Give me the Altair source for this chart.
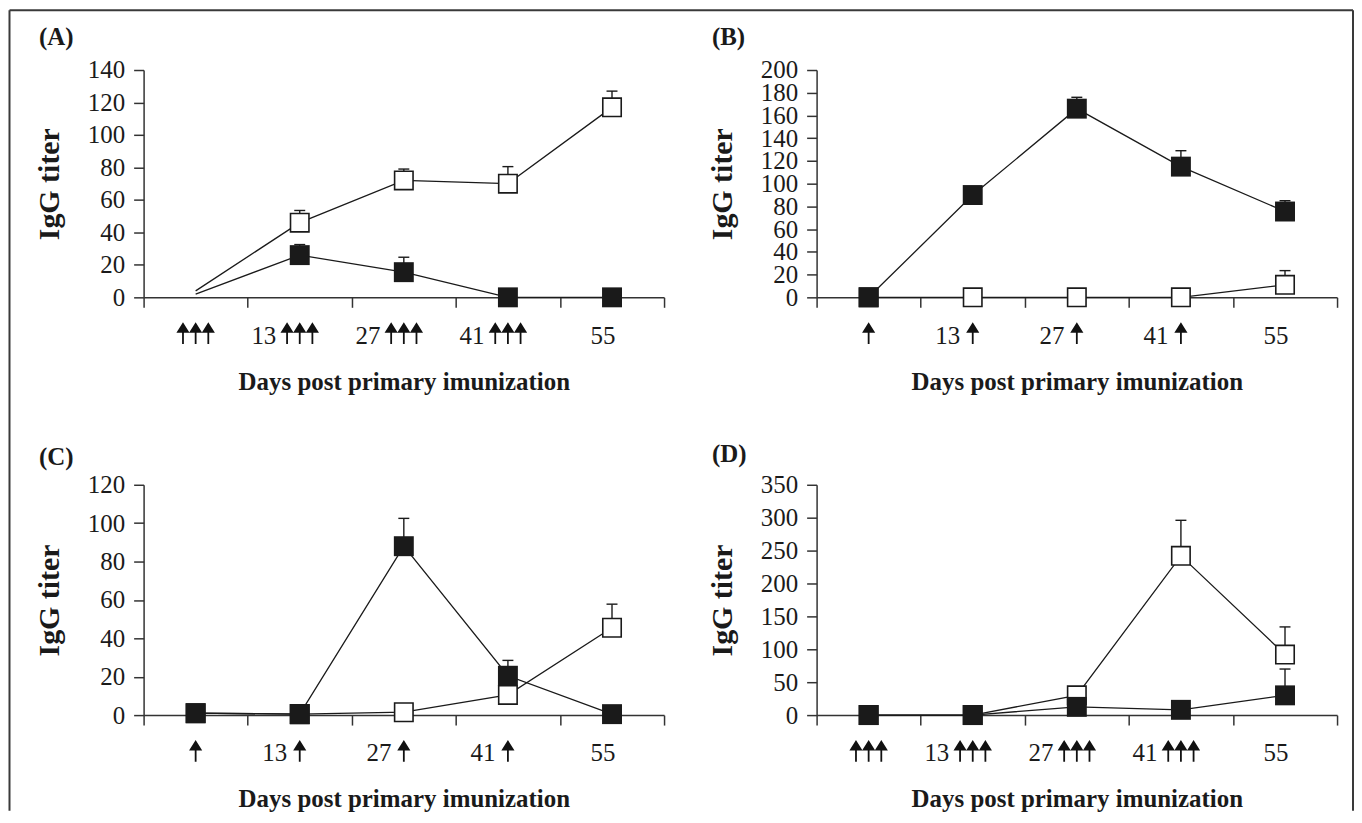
import altair as alt
import pandas as pd

# ---------------- data ----------------
days = ["0", "13", "27", "41", "55"]
day_labels = ["", "13", "27", "41", "55"]

# Panel A
a_open = [4, 46, 72, 70, 117]
a_open_err = [None, 53.5, 79, 80.5, 127]
a_filled = [2, 26, 15.5, 0, 0]
a_filled_err = [None, 32.5, 24.7, None, None]
a_marker = [False, True, True, True, True]
a_arrows = [3, 3, 3, 3, 0]
a_yticks = [0, 20, 40, 60, 80, 100, 120, 140]

# Panel B
b_open = [0, 0, 0, 0, 11]
b_open_err = [None, None, None, None, 23.5]
b_filled = [0, 90, 166, 115, 75.5]
b_filled_err = [None, None, 176, 129, 85]
b_marker = [True, True, True, True, True]
b_arrows = [1, 1, 1, 1, 0]
b_yticks = [0, 20, 40, 60, 80, 100, 120, 140, 160, 180, 200]

# Panel C
c_open = [1, 0.5, 1.5, 10.5, 45.5]
c_open_err = [None, None, None, None, 57.8]
c_filled = [1, 0.5, 88, 20.5, 0.5]
c_filled_err = [None, None, 102.5, 28.5, None]
c_marker = [True, True, True, True, True]
c_arrows = [1, 1, 1, 1, 0]
c_yticks = [0, 20, 40, 60, 80, 100, 120]

# Panel D
d_open = [0, 0, 30, 242, 92]
d_open_err = [None, None, None, 296, 134]
d_filled = [0, 0, 12.5, 8, 30]
d_filled_err = [None, None, None, None, 70]
d_marker = [True, True, True, True, True]
d_arrows = [3, 3, 3, 3, 0]
d_yticks = [0, 50, 100, 150, 200, 250, 300, 350]

panel_letters = ["(A)", "(B)", "(C)", "(D)"]

# ---------------- style ----------------
FONT = "Liberation Serif"
INK = "#1a1a1a"
AXIS = "#333333"
W = 522
H_TOP = 228
H_BOT = 231


def arrow_path(n, spacing=0.635):
    hw, top, base, bottom, sw = 0.33, -0.55, -0.02, 0.54, 0.045
    parts = []
    for k in range(n):
        cx = (k - (n - 1) / 2) * spacing
        parts.append(
            f"M{cx-hw:.3f},{base}L{cx:.3f},{top}L{cx+hw:.3f},{base}"
            f"L{cx+sw:.3f},{base}L{cx+sw:.3f},{bottom}L{cx-sw:.3f},{bottom}L{cx-sw:.3f},{base}Z"
        )
    return "".join(parts)


def label_expr():
    expr = "datum.value"
    for d, l in zip(days, day_labels):
        expr = f"datum.value == '{d}' ? '{l}' : ({expr})"
    return expr


def panel(letter, open_v, open_err, filled_v, filled_err, markers, arrows, yticks,
          height, letter_dy=-24, frame=False):
    rows = []
    for s, vals, errs in [("open", open_v, open_err), ("filled", filled_v, filled_err)]:
        for i, d in enumerate(days):
            rows.append({"day": d, "idx": i, "series": s, "value": vals[i],
                         "upper": errs[i], "marker": markers[i]})
    df = pd.DataFrame(rows)
    arrow_df = pd.DataFrame({"day": days, "arrows": arrows})

    n_arrows = max(arrows)
    no_arrow = [d for d, n in zip(days, arrows) if n == 0]
    test = "indexof([" + ",".join(f"'{d}'" for d in no_arrow) + "], datum.value) >= 0"
    shift = -24 if n_arrows >= 3 else -13

    x_axis = alt.Axis(
        tickBand="extent", tickSize=10, tickWidth=1.5, tickColor=AXIS,
        domainColor=AXIS, domainWidth=1.5,
        labelExpr=label_expr(), labelAlign="right", labelBaseline="top",
        labelOffset={"condition": {"test": test, "value": 3}, "value": shift},
        labelPadding=16, labelFont=FONT, labelFontSize=25, labelColor=INK,
        labelOverlap=False, labelAngle=0,
        title="Days post primary imunization", titleFont=FONT, titleFontSize=25,
        titleFontWeight="bold", titleColor=INK, titlePadding=21,
    )
    y_axis = alt.Axis(
        values=yticks, grid=False, tickSize=10, tickWidth=1.5, tickColor=AXIS,
        domainColor=AXIS, domainWidth=1.5,
        labelFont=FONT, labelFontSize=25, labelColor=INK, labelPadding=9,
        labelOverlap=False, labelFlush=False,
        title="IgG titer", titleFont=FONT, titleFontSize=30, titleFontWeight="bold",
        titleColor=INK, titlePadding=23,
    )
    xs = alt.Scale(type="band", domain=days, paddingInner=0, paddingOuter=0)
    ys = alt.Scale(domain=[0, yticks[-1]], nice=False, zero=True)
    x = alt.X("day:N", scale=xs, axis=x_axis)
    y = alt.Y("value:Q", scale=ys, axis=y_axis)
    yu = alt.Y("upper:Q", scale=ys, axis=y_axis)

    base = alt.Chart(df)
    err = base.transform_filter("isValid(datum.upper)")
    one = alt.Chart(pd.DataFrame({"letter": [letter]}))
    layers = [
        err.mark_rule(color=INK, strokeWidth=1.4).encode(x=x, y=y, y2="upper:Q"),
        err.mark_tick(color=INK, size=11, thickness=1.4, opacity=1).encode(x=x, y=yu),
        base.mark_line(color=INK, strokeWidth=1.3).encode(
            x=x, y=y, detail="series:N", order="idx:Q"),
        base.transform_filter("datum.marker && datum.series == 'open'").mark_point(
            shape="square", size=342, filled=True, fill="white", stroke=INK,
            strokeWidth=1.6, opacity=1).encode(x=x, y=y),
        base.transform_filter("datum.marker && datum.series == 'filled'").mark_point(
            shape="square", size=400, filled=True, fill=INK, strokeWidth=0,
            opacity=1).encode(x=x, y=y),
        alt.Chart(arrow_df).transform_filter("datum.arrows > 0").mark_point(
            shape=arrow_path(n_arrows), size=1600, filled=True, fill="#111",
            strokeWidth=0, opacity=1).encode(x=x, y=alt.value(height + 36)),
        one.mark_text(font=FONT, fontSize=25, fontWeight="bold", color=INK,
                      align="left", baseline="alphabetic").encode(
            text="letter:N", x=alt.value(-105), y=alt.value(letter_dy)),
    ]
    if frame:
        fb = alt.Chart(pd.DataFrame({"f": [0]})).mark_rule(color="#3a3a3a", strokeWidth=2)
        layers += [
            fb.encode(x=alt.value(-134.5), y=alt.value(-60), y2=alt.value(743)),
            fb.encode(x=alt.value(-134.5), x2=alt.value(1213), y=alt.value(-60)),
            fb.encode(x=alt.value(1213), y=alt.value(-60), y2=alt.value(743)),
        ]
    return alt.layer(*layers).properties(width=W, height=height)


pa = panel(panel_letters[0], a_open, a_open_err, a_filled, a_filled_err, a_marker,
           a_arrows, a_yticks, H_TOP, letter_dy=-25, frame=True)
pb = panel(panel_letters[1], b_open, b_open_err, b_filled, b_filled_err, b_marker,
           b_arrows, b_yticks, H_TOP, letter_dy=-25)
pc = panel(panel_letters[2], c_open, c_open_err, c_filled, c_filled_err, c_marker,
           c_arrows, c_yticks, H_BOT, letter_dy=-20)
pd_ = panel(panel_letters[3], d_open, d_open_err, d_filled, d_filled_err, d_marker,
            d_arrows, d_yticks, H_BOT, letter_dy=-23)

chart = alt.concat(
    pa, pb, pc, pd_, columns=2,
    spacing={"row": 188, "column": 153}, bounds="flush",
).properties(padding=0, background="white").configure_view(stroke=None)

chart.save("out.html", embed_options={"renderer": "svg", "actions": False})
